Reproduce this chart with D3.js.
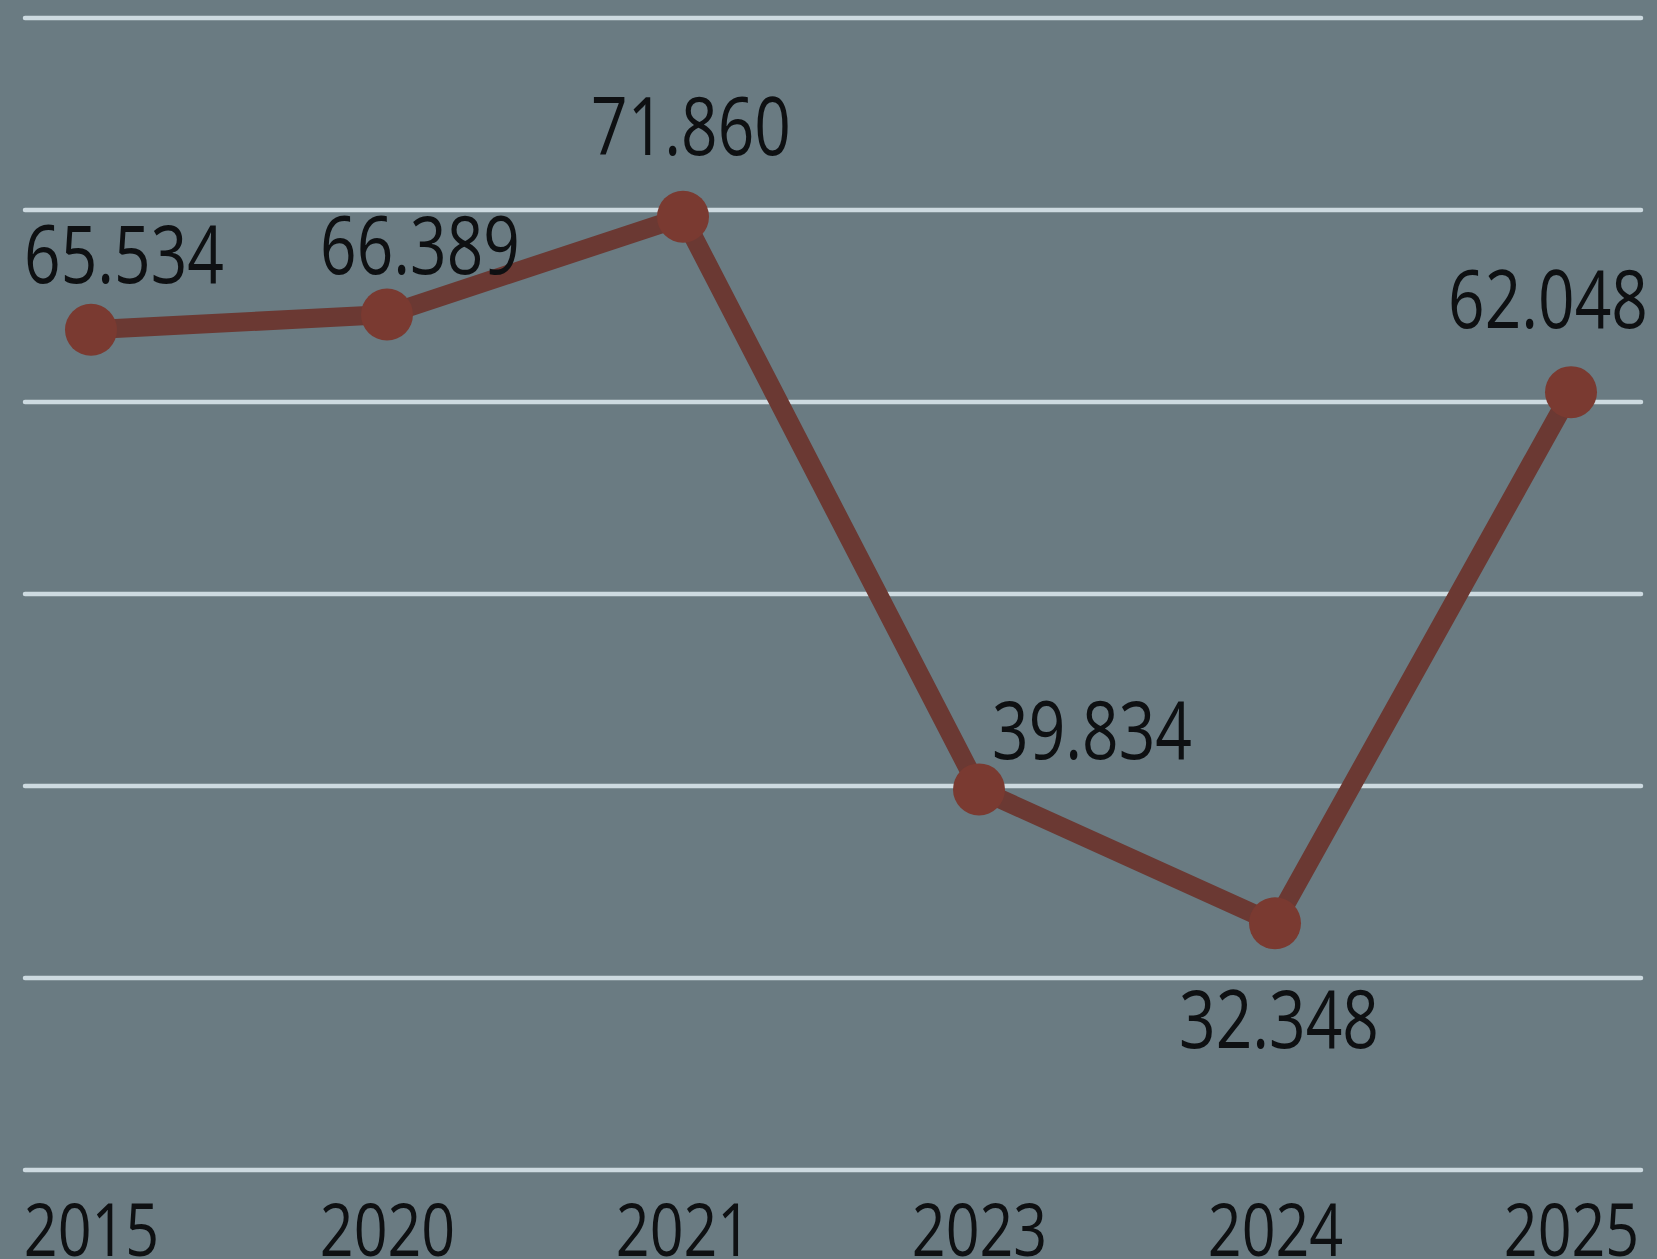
<!DOCTYPE html>
<html>
<head>
<meta charset="utf-8">
<script src="https://cdn.jsdelivr.net/npm/d3@7/dist/d3.min.js"></script>
<style>
  html, body { margin: 0; padding: 0; background: #6a7b82; }
  svg { display: block; }
  text { font-family: "Open Sans", "Noto Sans", sans-serif; fill: #0e1012; }
</style>
</head>
<body>
<svg id="chart" width="1657" height="1259"></svg>
<script>
// ---- data ----
const years = ["2015", "2020", "2021", "2023", "2024", "2025"];
const values = [65.534, 66.389, 71.860, 39.834, 32.348, 62.048];
const valueLabels = ["65.534", "66.389", "71.860", "39.834", "32.348", "62.048"];
const gridValues = [18.55, 29.29, 40.03, 50.76, 61.50, 72.24, 82.97];

// ---- layout (label offsets relative to each point) ----
const labelOffsets = [
  [33, -47], [33, -41], [8, -62], [113, -30], [4, 125], [-23, -64]
];
const squeeze = 0.8; // condensed look of the original typeface

const W = 1657, H = 1259;
const svg = d3.select("#chart");

svg.append("rect").attr("width", W).attr("height", H).attr("fill", "#6a7b82");

const x = d3.scalePoint().domain(years).range([91, 1571]).padding(0);
const y = d3.scaleLinear().domain([18.55, 82.97]).range([1170, 18]);

// gridlines
svg.append("g").selectAll("line").data(gridValues).join("line")
  .attr("x1", 25).attr("x2", 1641)
  .attr("y1", d => y(d)).attr("y2", d => y(d))
  .attr("stroke", "#cddae0").attr("stroke-width", 4.5)
  .attr("stroke-linecap", "round");

// x axis labels
const xAxis = d3.axisBottom(x).tickSize(0).tickPadding(0);
const gx = svg.append("g").attr("transform", "translate(0,1256)").call(xAxis);
gx.select(".domain").remove();
gx.selectAll("text")
  .attr("y", 0).attr("dy", 0)
  .attr("transform", `scale(${squeeze},1)`)
  .attr("font-size", 74)
  .style("font-family", "'Open Sans', 'Noto Sans', sans-serif")
  .attr("fill", "#0e1012");

const pts = years.map((yr, i) => ({ yr, v: values[i], label: valueLabels[i], off: labelOffsets[i] }));

// line
const line = d3.line().x(d => x(d.yr)).y(d => y(d.v));
svg.append("path").datum(pts)
  .attr("d", line)
  .attr("fill", "none")
  .attr("stroke", "#6b3933")
  .attr("stroke-width", 19)
  .attr("stroke-linejoin", "round")
  .attr("stroke-linecap", "round");

// points
svg.append("g").selectAll("circle").data(pts).join("circle")
  .attr("cx", d => x(d.yr)).attr("cy", d => y(d.v))
  .attr("r", 26)
  .attr("fill", "#7a3a31");

// value labels
svg.append("g").selectAll("text").data(pts).join("text")
  .attr("transform", d => `translate(${x(d.yr) + d.off[0]},${y(d.v) + d.off[1]}) scale(${squeeze},1)`)
  .attr("text-anchor", "middle")
  .attr("font-size", 80)
  .text(d => d.label);
</script>
</body>
</html>
